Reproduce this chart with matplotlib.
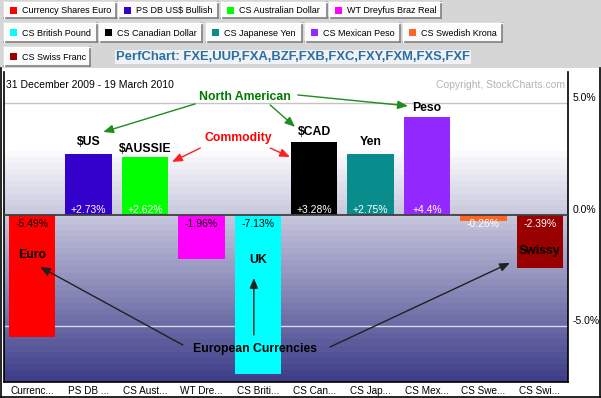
import matplotlib
matplotlib.use("Agg")
import matplotlib.pyplot as plt
import numpy as np
from matplotlib.patches import Rectangle

plt.rcParams['font.family'] = ['Liberation Sans', 'DejaVu Sans']

# ---------------- data ----------------
names = ["Currency Shares Euro", "PS DB US$ Bullish", "CS Australian Dollar",
         "WT Dreyfus Braz Real", "CS British Pound", "CS Canadian Dollar",
         "CS Japanese Yen", "CS Mexican Peso", "CS Swedish Krona", "CS Swiss Franc"]
short_labels = ["Currenc...", "PS DB ...", "CS Aust...", "WT Dre...", "CS Briti...",
                "CS Can...", "CS Jap...", "CS Mex...", "CS Swe...", "CS Swi..."]
values = [-5.49, 2.73, 2.62, -1.96, -7.13, 3.28, 2.75, 4.40, -0.26, -2.39]
colors = ["#ff0000", "#3300cc", "#00ff00", "#ff00ff", "#00ffff",
          "#000000", "#088c8c", "#9429ff", "#ff6622", "#990000"]
yticks = [5, 0, -5]
ytick_labels = ["5.0%", "0.0%", "-5.0%"]
title = "PerfChart: FXE,UUP,FXA,BZF,FXB,FXC,FXY,FXM,FXS,FXF"
date_text = "31 December 2009 - 19 March 2010"

W, H = 601, 398
fig = plt.figure(figsize=(W / 100, H / 100), dpi=100)
fig.patch.set_facecolor("white")

# background / header axes in pixel coords
bg = fig.add_axes([0, 0, 1, 1], zorder=0)
bg.set_xlim(0, W)
bg.set_ylim(H, 0)
bg.axis("off")
bg.add_patch(Rectangle((0, 0), W, 68, facecolor="#d6d6d6", edgecolor="none"))
# outer border of white panel
bg.plot([0.5, 0.5], [68, H - 1.5], color="black", lw=1.2)
bg.plot([W - 1.5, W - 1.5], [68, H - 1.5], color="black", lw=1.2)
bg.plot([0.5, W - 1.5], [H - 1.5, H - 1.5], color="black", lw=1.2)

# legend buttons (layout: row tops/bottoms and button x-ranges)
rows = [(2, 18, [(4, 116), (118, 218), (221, 327), (329, 441)]),
        (23, 42, [(4, 97), (99, 202), (206, 302), (305, 400), (403, 502)]),
        (47, 66, [(4, 90)])]
k = 0
for top, bot, spans in rows:
    for x0, x1 in spans:
        bg.add_patch(Rectangle((x0, top), x1 - x0, bot - top, facecolor="#fbfbfb",
                               edgecolor="none"))
        bg.plot([x0, x1], [bot, bot], color="#808080", lw=1.2)
        bg.plot([x1, x1], [top, bot], color="#808080", lw=1.2)
        bg.plot([x0, x1], [top, top], color="#ffffff", lw=1)
        bg.plot([x0, x0], [top, bot], color="#ffffff", lw=1)
        cy = (top + bot) / 2
        bg.add_patch(Rectangle((x0 + 6, cy - 3.5), 7, 7, facecolor=colors[k],
                               edgecolor="none"))
        bg.text(x0 + 18, cy + 0.5, names[k], fontsize=6.5, va="center", ha="left",
                color="black")
        k += 1

bg.text(116, 57, title, fontsize=9.4, fontweight="bold", color="#2e6e9e",
        va="center", ha="left",
        bbox=dict(boxstyle="square,pad=0.1", facecolor="#eef2f6", edgecolor="none"))

# ---------------- main plot ----------------
left, right, top_px, bot_px = 4, 568, 72, 382
ax = fig.add_axes([left / W, 1 - bot_px / H, (right - left) / W, (bot_px - top_px) / H],
                  zorder=1)
ax.set_facecolor("white")
n = len(values)
x = np.arange(n)
ymin, ymax = -7.49, 6.41

# banded gradient background
grad_top = 2.83
nb = 38
t = np.linspace(0, 1, nb)
c0 = np.array([250, 250, 252]) / 255
c1 = np.array([62, 62, 138]) / 255
img = (c0[None, :] * (1 - t[:, None]) + c1[None, :] * t[:, None])[:, None, :]
ax.imshow(img, extent=[-0.5, n - 0.5, ymin, grad_top], aspect="auto",
          interpolation="nearest", zorder=0, origin="upper")
ax.set_xlim(-0.5, n - 0.5)
ax.set_ylim(ymin, ymax)

ax.axhline(5, color="#c4c4c4", lw=1, zorder=1)
ax.axhline(-5, color="#d8d8e8", lw=1, zorder=1)

ax.bar(x, values, width=0.82, color=colors, zorder=2)
ax.axhline(0, color="#404040", lw=1.3, zorder=3)


def fmt(v):
    s = f"{v:+.2f}"
    if s.endswith("0"):
        s = s[:-1]
    return s + "%"


for i, v in enumerate(values):
    if v >= 0:
        ax.annotate(fmt(v), (i, 0), xytext=(0, 5), textcoords="offset pixels",
                    ha="center", va="center", fontsize=7.5, color="white", zorder=4)
    else:
        r, g, b = [int(colors[i][j:j + 2], 16) / 255 for j in (1, 3, 5)]
        lum = 0.299 * r + 0.587 * g + 0.114 * b
        col = "white" if (abs(v) < 0.6 or lum < 0.25) else "black"
        ax.annotate(fmt(v), (i, 0), xytext=(0, -9), textcoords="offset pixels",
                    ha="center", va="center", fontsize=7.5, color=col, zorder=4)

# axes styling
for s in ["left", "right", "bottom"]:
    ax.spines[s].set_color("black")
    ax.spines[s].set_linewidth(1.2)
ax.spines["top"].set_visible(False)
ax.yaxis.tick_right()
ax.set_yticks(yticks)
ax.set_yticklabels(ytick_labels, fontsize=7.5)
for lbl in ax.get_yticklabels():
    lbl.set_va("bottom")
ax.tick_params(axis="y", length=0, pad=3)
ax.set_xticks(x)
ax.set_xticklabels(short_labels, fontsize=7.2)
ax.tick_params(axis="x", length=0, pad=3)

ax.text(0.004, 0.975, date_text, transform=ax.transAxes, fontsize=7.5,
        va="top", ha="left", color="black")
ax.text(0.995, 0.975, "Copyright, StockCharts.com", transform=ax.transAxes,
        fontsize=7.5, va="top", ha="right", color="#b4b4b4")

# ---------------- annotations ----------------
bold = dict(fontweight="bold", fontsize=8.8, ha="center")
# names above positive bars (index, pixel gap)
tops = [("$US", 1, 6), ("$AUSSIE", 2, 2), ("$CAD", 5, 4), ("Yen", 6, 6), ("Peso", 7, 3)]
for txt, i, gap in tops:
    ax.annotate(txt, (i, values[i]), xytext=(0, gap), textcoords="offset pixels",
                va="bottom", color="black", zorder=5, **bold)
# names inside negative bars
inside = [("Euro", 0, -1.79), ("UK", 4, -2.02), ("Swissy", 9, -1.61)]
for txt, i, yy in inside:
    ax.text(i, yy, txt, va="center", color="black", zorder=5, **bold)

green = "#1e8c1e"
ax.text(3.77, 5.29, "North American", va="center", color="#007a00", zorder=5, **bold)
ax.text(3.65, 3.45, "Commodity", va="center", color="#ff0000", zorder=5, **bold)
ax.text(3.95, -6.01, "European Currencies", va="center", color="black", zorder=5, **bold)


def arrow(x0, y0, x1, y1, col):
    ax.annotate("", xy=(x1, y1), xytext=(x0, y0),
                arrowprops=dict(arrowstyle="-|>,head_length=0.6,head_width=0.25",
                                color=col, lw=1.0, shrinkA=0, shrinkB=0), zorder=5)


arrow(2.89, 4.98, 1.26, 3.72, green)
arrow(4.22, 4.93, 4.66, 3.95, green)
arrow(4.71, 5.38, 6.66, 4.89, green)
arrow(2.98, 3.00, 2.48, 2.38, "#ff2020")
arrow(4.22, 3.00, 4.57, 2.60, "#ff2020")
arrow(2.67, -5.83, 0.14, -2.33, "#202020")
arrow(3.93, -5.38, 3.93, -2.83, "#202020")
arrow(5.28, -5.92, 8.47, -2.15, "#202020")

fig.savefig("out.png", dpi=100)
